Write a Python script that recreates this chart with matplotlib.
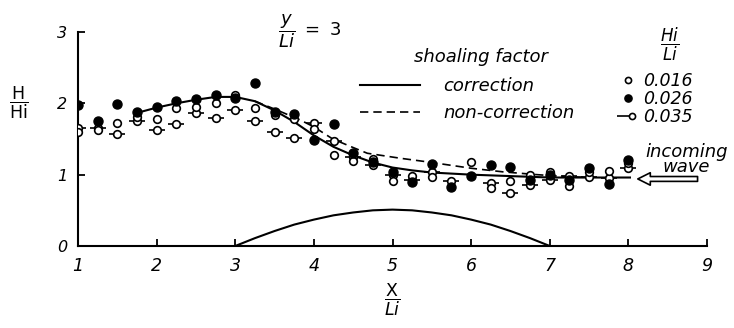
import matplotlib.pyplot as plt
import numpy as np
from matplotlib.lines import Line2D
from matplotlib.legend_handler import HandlerTuple

plt.rcParams['font.family'] = 'DejaVu Sans'
plt.rcParams['mathtext.fontset'] = 'dejavusans'

# measuring stations along the shoal
x_st = [1.0, 1.25, 1.5, 1.75, 2.0, 2.25, 2.5, 2.75, 3.0, 3.25, 3.5, 3.75, 4.0, 4.25, 4.5,
        4.75, 5.0, 5.25, 5.5, 5.75, 6.0, 6.25, 6.5, 6.75, 7.0, 7.25, 7.5, 7.75, 8.0]
nan = np.nan
h_016 = [1.60, 1.62, 1.72, 1.81, 1.78, 1.94, 1.95, 2.00, 2.12, 1.94, 1.84, 1.78, 1.64, 1.27, 1.19,
         1.22, 0.91, 0.98, 0.97, nan, 1.18, 0.82, 0.91, 1.00, 1.04, 0.84, 1.04, 1.05, 1.16]
h_026 = [1.98, 1.75, 1.99, 1.88, 1.95, 2.03, 2.06, 2.12, 2.07, 2.29, 1.88, 1.85, 1.48, 1.71, 1.31,
         1.18, 1.04, 0.90, 1.15, 0.83, 0.98, 1.14, 1.11, 0.93, 1.00, 0.93, 1.09, 0.87, 1.21]
h_035 = [1.66, 1.66, 1.57, 1.75, 1.63, 1.71, 1.87, 1.80, 1.90, 1.75, 1.60, 1.51, 1.72, 1.47, 1.25,
         1.14, 1.00, 0.92, 1.04, 0.91, nan, 0.88, 0.74, 0.86, 0.93, 0.98, 0.97, 0.95, 1.09]

# computed wave height, shoaling factor with correction
x_corr = [1.73, 2.0, 2.25, 2.5, 2.75, 3.0, 3.25, 3.5, 3.75, 4.0, 4.25, 4.5, 4.75, 5.0, 5.25, 5.5,
          6.0, 6.5, 7.0, 7.5, 8.02]
h_corr = [1.86, 1.94, 2.00, 2.05, 2.09, 2.09, 2.03, 1.90, 1.74, 1.55, 1.39, 1.27, 1.17, 1.10, 1.06,
          1.03, 1.00, 0.98, 0.96, 0.96, 0.96]
# without correction
x_ncorr = [3.25, 3.5, 3.82, 4.0, 4.24, 4.5, 4.68, 5.1, 5.44, 6.0, 6.4, 6.84, 7.1, 7.5]
h_ncorr = [2.03, 1.92, 1.77, 1.67, 1.50, 1.38, 1.30, 1.23, 1.18, 1.09, 1.04, 1.00, 0.98, 0.96]

# shoal profile
x_shoal = [3.0, 3.25, 3.5, 3.75, 4.0, 4.25, 4.5, 4.75, 5.0, 5.25, 5.5, 5.75, 6.0, 6.25, 6.5, 6.75, 7.0]
z_shoal = [0.0, 0.11, 0.21, 0.30, 0.37, 0.43, 0.47, 0.50, 0.51, 0.50, 0.47, 0.43, 0.37, 0.30, 0.21, 0.11, 0.0]

fig = plt.figure(figsize=(7.34, 3.28), dpi=100)
ax = fig.add_axes([78 / 734, 82 / 328, 629 / 734, 214 / 328])

ax.plot(x_shoal, z_shoal, color='k', lw=1.5, zorder=2)
ax.plot(x_corr, h_corr, color='k', lw=1.5, zorder=2)
ax.plot(x_ncorr, h_ncorr, color='k', lw=1.2, dashes=(5, 3), zorder=2)

ax.plot(x_st, h_035, ls='none', marker='_', ms=11, mew=1.2, color='k', zorder=3)
ax.plot(x_st, h_035, ls='none', marker='o', ms=5.5, mfc='white', mec='k', mew=1.2, zorder=4)
ax.plot(x_st, h_016, ls='none', marker='o', ms=5.5, mfc='white', mec='k', mew=1.2, zorder=4)
ax.plot(x_st, h_026, ls='none', marker='o', ms=6.5, mfc='k', mec='k', zorder=5)

ax.set_xlim(1, 9)
ax.set_ylim(0, 3)
ax.set_xticks(range(1, 10))
ax.set_yticks([0, 1, 2, 3])
ax.spines[['top', 'right']].set_visible(False)
ax.spines[['left', 'bottom']].set_linewidth(1.5)
ax.tick_params(direction='in', length=5, width=1.3, pad=8)
ax.tick_params(axis='x', labelsize=12.5)
ax.tick_params(axis='y', labelsize=11.5)
for lbl in ax.get_xticklabels() + ax.get_yticklabels():
    lbl.set_style('italic')

fig.text(19 / 734, 1 - 103 / 328, r'$\dfrac{\mathrm{H}}{\mathrm{Hi}}$', ha='center', va='center', fontsize=12.5)
fig.text(392 / 734, 1 - 300 / 328, r'$\dfrac{\mathrm{X}}{Li}$', ha='center', va='center', fontsize=12.5)
fig.text(310 / 734, 1 - 31 / 328, r'$\dfrac{y}{Li}\ =\ 3$', ha='center', va='center', fontsize=13)

# legend for the computed curves
fig.text(481 / 734, 1 - 57 / 328, 'shoaling factor', ha='center', va='center',
         fontsize=13, style='italic')
line_handles = [Line2D([], [], color='k', lw=1.5),
                Line2D([], [], color='k', lw=1.2, dashes=(5, 3))]
leg1 = ax.legend(line_handles, ['correction', 'non-correction'],
                 loc='upper left', bbox_to_anchor=(360 / 734, 1 - 77 / 328),
                 bbox_transform=fig.transFigure, frameon=False,
                 prop=dict(style='italic', size=13),
                 handlelength=3.3, handletextpad=1.3, labelspacing=0.5,
                 borderpad=0, borderaxespad=0)
ax.add_artist(leg1)

# legend for the measured series
fig.text(670 / 734, 1 - 44 / 328, r'$\dfrac{Hi}{Li}$', ha='center', va='center', fontsize=12)
m016 = Line2D([], [], ls='none', marker='o', ms=5.5, mfc='white', mec='k', mew=1.2)
m026 = Line2D([], [], ls='none', marker='o', ms=6.5, mfc='k', mec='k')
m035 = (Line2D([], [], ls='none', marker='_', ms=11, mew=1.2, color='k'),
        Line2D([], [], ls='none', marker='o', ms=5.5, mfc='white', mec='k', mew=1.2))
ax.legend([m016, m026, m035], ['0.016', '0.026', '0.035'],
          handler_map={tuple: HandlerTuple(ndivide=None)},
          loc='upper left', bbox_to_anchor=(619 / 734, 1 - 72 / 328),
          bbox_transform=fig.transFigure, frameon=False, markerscale=0.8, numpoints=1,
          prop=dict(style='italic', size=12.5),
          handlelength=1.0, handletextpad=0.4, labelspacing=0.0,
          borderpad=0, borderaxespad=0)

ax.text(8.74, 1.21, 'incoming\nwave', ha='center', va='center', fontsize=13,
        style='italic', linespacing=0.8, clip_on=False)
ax.annotate('', xy=(8.12, 0.94), xytext=(8.88, 0.94), annotation_clip=False,
            arrowprops=dict(arrowstyle='simple,head_length=0.9,head_width=0.9,tail_width=0.35',
                            fc='white', ec='k', lw=1.2, mutation_scale=10,
                            shrinkA=0, shrinkB=0))

fig.savefig('out.png', dpi=100)
